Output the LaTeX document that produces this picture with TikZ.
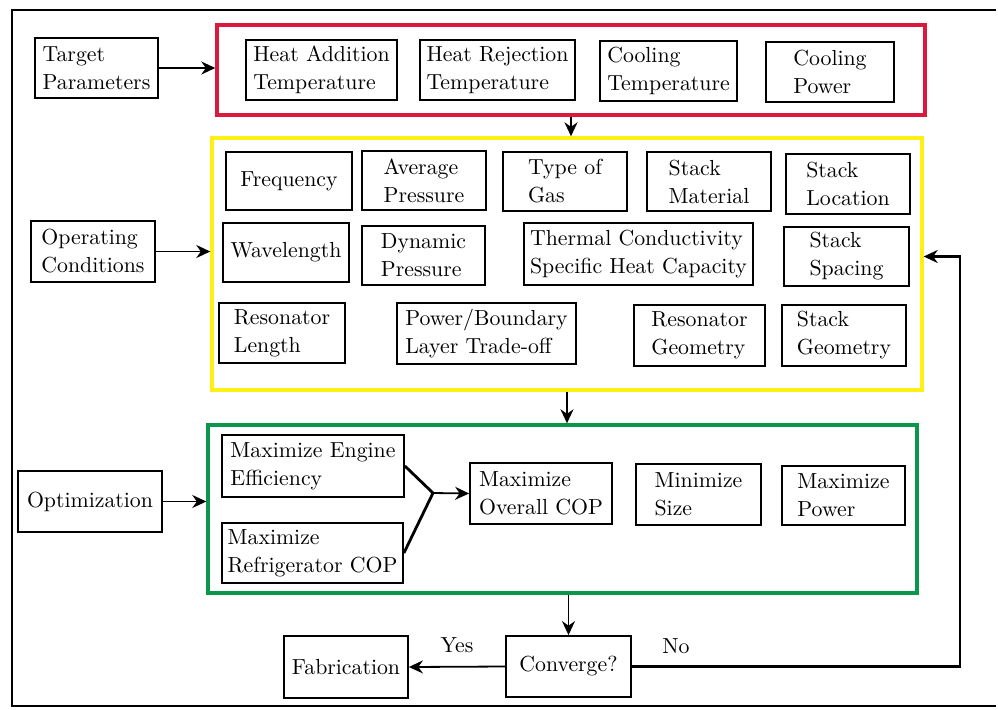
\documentclass[tikz,border=0pt]{standalone}
\usepackage{amsmath}
\usepackage{tikz}
\usetikzlibrary{arrows.meta}

\definecolor{redfrm}{RGB}{220,25,60}
\definecolor{yelfrm}{RGB}{255,240,20}
\definecolor{grnfrm}{RGB}{10,150,75}

\tikzset{
  blk/.style={draw, line width=0.9pt, align=left, inner sep=2pt,
    font=\fontsize{10.9}{14}\selectfont},
  frm/.style={draw, line width=1.7pt, inner sep=0pt},
  lbl/.style={font=\fontsize{10.9}{14}\selectfont},
  >={Stealth[length=7pt,width=6.5pt]}
}

\begin{document}
\begin{tikzpicture}[x=0.5pt, y=-0.5pt]
            \useasboundingbox (0,0) rectangle (998,709);
            % outer frame
            \draw[line width=0.9pt] (996,10) -- (12,10) -- (12,706) -- (996,706);

            % target parameters
            \node[frm, draw=redfrm, minimum width=354pt, minimum height=45pt] (tfrm) at (571,70) {};
            \node[blk, minimum width=61.5pt, minimum height=30pt] (tgt) at (96.5,68) {Target\\Parameters};
            \node[blk, minimum width=75.5pt, minimum height=30pt] (had) at (321.5,70) {Heat Addition\\Temperature};
            \node[blk, minimum width=77.5pt, minimum height=30pt] (hrej) at (497.5,70) {Heat Rejection\\Temperature};
            \node[blk, minimum width=68.5pt, minimum height=30pt] (ctmp) at (668.5,71) {Cooling\\Temperature};
            \node[blk, minimum width=64pt, minimum height=30pt] (cpow) at (830,72) {Cooling\\Power};

            % operating conditions
            \node[frm, draw=yelfrm, minimum width=355pt, minimum height=126pt] (yfrm) at (567,264) {};
            \node[blk, minimum width=62pt, minimum height=30.5pt] (opc) at (93,251.5) {Operating\\Conditions};
            \node[blk, minimum width=63pt, minimum height=29pt] (freq) at (289,181) {Frequency};
            \node[blk, minimum width=62pt, minimum height=29.5pt] (avgp) at (424,180.5) {Average\\Pressure};
            \node[blk, minimum width=62pt, minimum height=29.5pt] (gas) at (565,181.5) {Type of\\Gas};
            \node[blk, minimum width=62pt, minimum height=29.5pt] (smat) at (709,181.5) {Stack\\Material};
            \node[blk, minimum width=62pt, minimum height=30pt] (sloc) at (848,184) {Stack\\Location};
            \node[blk, minimum width=63pt, minimum height=29.5pt] (wave) at (286,252.5) {Wavelength};
            \node[blk, minimum width=61.5pt, minimum height=29.5pt] (dynp) at (423.5,255.5) {Dynamic\\Pressure};
            \node[blk, minimum width=114.5pt, minimum height=31pt] (therm) at (638.5,254) {Thermal Conductivity\\Specific Heat Capacity};
            \node[blk, minimum width=62.5pt, minimum height=29.5pt] (sspc) at (846.5,256.5) {Stack\\Spacing};
            \node[blk, minimum width=63pt, minimum height=30pt] (rlen) at (282,333) {Resonator\\Length};
            \node[blk, minimum width=89.5pt, minimum height=30.5pt] (pbl) at (486.5,333.5) {Power/Boundary\\Layer Trade-off};
            \node[blk, minimum width=65.5pt, minimum height=30.5pt] (rgeo) at (699.5,335.5) {Resonator\\Geometry};
            \node[blk, minimum width=62pt, minimum height=30.5pt] (sgeo) at (844,335.5) {Stack\\Geometry};

            % optimization
            \node[frm, draw=grnfrm, minimum width=354.5pt, minimum height=84pt] (gfrm) at (562.5,509) {};
            \node[blk, minimum width=72pt, minimum height=30.5pt] (opt) at (90,501.5) {Optimization};
            \node[blk, minimum width=91pt, minimum height=31pt] (eng) at (313,466) {Maximize Engine\\Efficiency};
            \node[blk, minimum width=90.5pt, minimum height=30pt] (refr) at (312.5,553) {Maximize\\Refrigerator COP};
            \node[blk, minimum width=71pt, minimum height=30.5pt] (ocop) at (541,493.5) {Maximize\\Overall COP};
            \node[blk, minimum width=62.5pt, minimum height=30.5pt] (msize) at (698.5,494.5) {Minimize\\Size};
            \node[blk, minimum width=61.5pt, minimum height=29.5pt] (mpow) at (843.5,495.5) {Maximize\\Power};
            \coordinate (join) at (433,493);

            % convergence
            \node[blk, minimum width=62.5pt, minimum height=30.5pt] (conv) at (568.5,666.5) {Converge?};
            \node[blk, minimum width=62pt, minimum height=31pt] (fab) at (346,667) {Fabrication};
            \coordinate (back) at (960,666.5);

            \draw[->, line width=0.9pt] (tgt.east) -- (tgt.east -| tfrm.west);
            \draw[->, line width=0.9pt] (tfrm.south) -- (tfrm.south |- yfrm.north);
            \draw[->, line width=0.9pt] (opc.east) -- (opc.east -| yfrm.west);
            \draw[->, line width=0.9pt] (yfrm.south) -- (yfrm.south |- gfrm.north);
            \draw[->, line width=0.9pt] (opt.east) -- (opt.east -| gfrm.west);
            \draw[line width=1.4pt] (eng.east) -- (join) -- (refr.east);
            \draw[->, line width=0.9pt] (join) -- (ocop.west);
            \draw[->, line width=0.9pt] (conv.north |- gfrm.south) -- (conv.north);
            \draw[->, line width=0.9pt] (conv.west) -- node[lbl, above, yshift=3pt] {Yes} (fab.east);
            \draw[->, line width=1.4pt] (conv.east) -- (back) |- (yfrm.east |- sspc.center);
            \node[lbl] (no) at (676,646) {No};
        \end{tikzpicture}
\end{document}
